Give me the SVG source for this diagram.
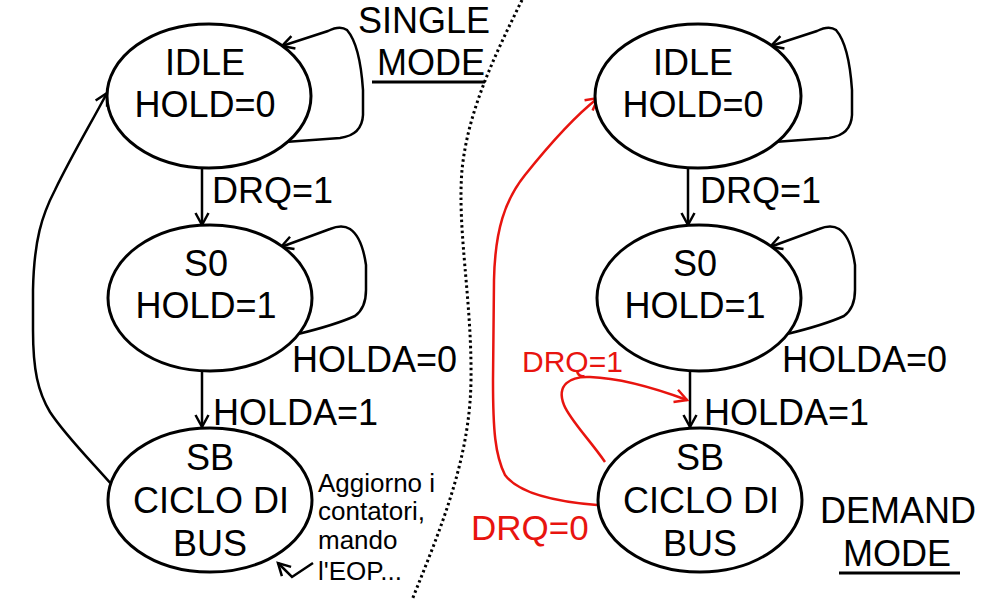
<svg xmlns="http://www.w3.org/2000/svg" width="1000" height="600" viewBox="0 0 1000 600">
<defs>
<marker id="ah" markerUnits="userSpaceOnUse" markerWidth="16" markerHeight="16" refX="13" refY="7" orient="auto" overflow="visible">
<path d="M1,0.5 L13,7 L1,13.5" fill="none" stroke="#000" stroke-width="2.5"/>
</marker>
<marker id="ahr" markerUnits="userSpaceOnUse" markerWidth="16" markerHeight="16" refX="13" refY="7" orient="auto" overflow="visible">
<path d="M1,0.5 L13,7 L1,13.5" fill="none" stroke="#e8140f" stroke-width="2.5"/>
</marker>
</defs>
<style>
.st{fill:#fff;stroke:#000;stroke-width:3}
.t{font-family:"Liberation Sans",Arial,sans-serif;font-size:36px;fill:#000}
.c{text-anchor:middle}
.e{fill:none;stroke:#000;stroke-width:2.5}
.r{fill:none;stroke:#e8140f;stroke-width:2.5}
.rt{font-family:"Liberation Sans",Arial,sans-serif;fill:#e8140f}
.sm{font-family:"Liberation Sans",Arial,sans-serif;font-size:26px;fill:#000}
</style>
<rect width="1000" height="600" fill="#fff"/>

<path d="M522,0 C495,55 468,110 462,170 C457,230 472,300 471,380 C470,460 440,530 412,600" fill="none" stroke="#000" stroke-width="3" stroke-dasharray="2.5,3"/>

<g id="connectors">
<!-- left -->
<path class="e" d="M285,142 L340,138 Q362,135 363,115 L363,90 Q360,45 347,30 Q340,25 328,31 L282,46" marker-end="url(#ah)"/>
<line class="e" x1="202" y1="168" x2="202" y2="225" marker-end="url(#ah)"/>
<path class="e" d="M298,334 Q335,325 355,316 Q366,308 366,290 L366,265 Q362,237 350,229 Q342,224 330,229 L281,247" marker-end="url(#ah)"/>
<line class="e" x1="202" y1="371" x2="202" y2="427" marker-end="url(#ah)"/>
<path class="e" d="M112,485 C90,460 65,435 50,412 C38,392 33,370 33,330 L33,290 C34,240 42,215 55,190 C72,155 90,125 107,93" marker-end="url(#ah)"/>
<path class="e" d="M313,563 L292,577 L278,563" marker-end="url(#ah)"/>
<!-- right -->
<path class="e" d="M774,142 L829,138 Q851,135 852,115 L852,90 Q849,45 836,30 Q829,25 817,31 L771,46" marker-end="url(#ah)"/>
<line class="e" x1="688" y1="168" x2="688" y2="225" marker-end="url(#ah)"/>
<path class="e" d="M787,334 Q824,325 844,316 Q855,308 855,290 L855,265 Q851,237 839,229 Q831,224 819,229 L770,247" marker-end="url(#ah)"/>
<line class="e" x1="690" y1="371" x2="690" y2="427" marker-end="url(#ah)"/>
<path class="r" d="M597,505 C560,502 520,495 505,475 C495,455 493,430 493,380 L494,280 C495,230 505,200 525,175 C545,150 570,120 598,98" marker-end="url(#ahr)"/>
<path class="r" d="M605,462 C590,440 570,420 564,405 C556,385 570,376 590,377 C620,378 660,390 687,400" marker-end="url(#ahr)"/>
</g>

<g id="idle-single">
<ellipse class="st" cx="209" cy="96" rx="102" ry="72"/>
<text class="t c" x="205" y="75">IDLE</text>
<text class="t c" x="205" y="117">HOLD=0</text>
</g>
<g id="s0-single">
<ellipse class="st" cx="210" cy="298" rx="102" ry="73"/>
<text class="t c" x="206" y="276">S0</text>
<text class="t c" x="206" y="318">HOLD=1</text>
</g>
<g id="sb-single">
<ellipse class="st" cx="210" cy="500" rx="102" ry="72"/>
<text class="t c" x="210" y="470">SB</text>
<text class="t c" x="211" y="513">CICLO DI</text>
<text class="t c" x="210" y="556">BUS</text>
</g>

<g id="idle-demand">
<ellipse class="st" cx="698" cy="96" rx="103" ry="72"/>
<text class="t c" x="693" y="75">IDLE</text>
<text class="t c" x="693" y="117">HOLD=0</text>
</g>
<g id="s0-demand">
<ellipse class="st" cx="699" cy="298" rx="102" ry="73"/>
<text class="t c" x="695" y="276">S0</text>
<text class="t c" x="695" y="318">HOLD=1</text>
</g>
<g id="sb-demand">
<ellipse class="st" cx="700" cy="500" rx="102" ry="72"/>
<text class="t c" x="700" y="470">SB</text>
<text class="t c" x="701" y="513">CICLO DI</text>
<text class="t c" x="700" y="556">BUS</text>
</g>

<g id="labels">
<text class="t" x="212" y="203">DRQ=1</text>
<text class="t" x="292" y="372">HOLDA=0</text>
<text class="t" x="213" y="425">HOLDA=1</text>
<text class="t" x="358" y="33">SINGLE</text>
<text class="t" x="377" y="75">MODE</text>
<line x1="372" y1="82" x2="485" y2="82" stroke="#000" stroke-width="3"/>
<text class="sm" x="318" y="492">Aggiorno i</text>
<text class="sm" x="318" y="520">contatori,</text>
<text class="sm" x="318" y="549">mando</text>
<text class="sm" x="318" y="580">l'EOP...</text>

<text class="t" x="700" y="203">DRQ=1</text>
<text class="t" x="782" y="372">HOLDA=0</text>
<text class="t" x="704" y="425">HOLDA=1</text>
<text class="rt" x="522" y="372" font-size="30">DRQ=1</text>
<text class="rt" x="471" y="540" font-size="35">DRQ=0</text>
<text class="t" x="820" y="523">DEMAND</text>
<text class="t" x="843" y="566">MODE</text>
<line x1="839" y1="573" x2="960" y2="573" stroke="#000" stroke-width="3"/>
</g>
</svg>
